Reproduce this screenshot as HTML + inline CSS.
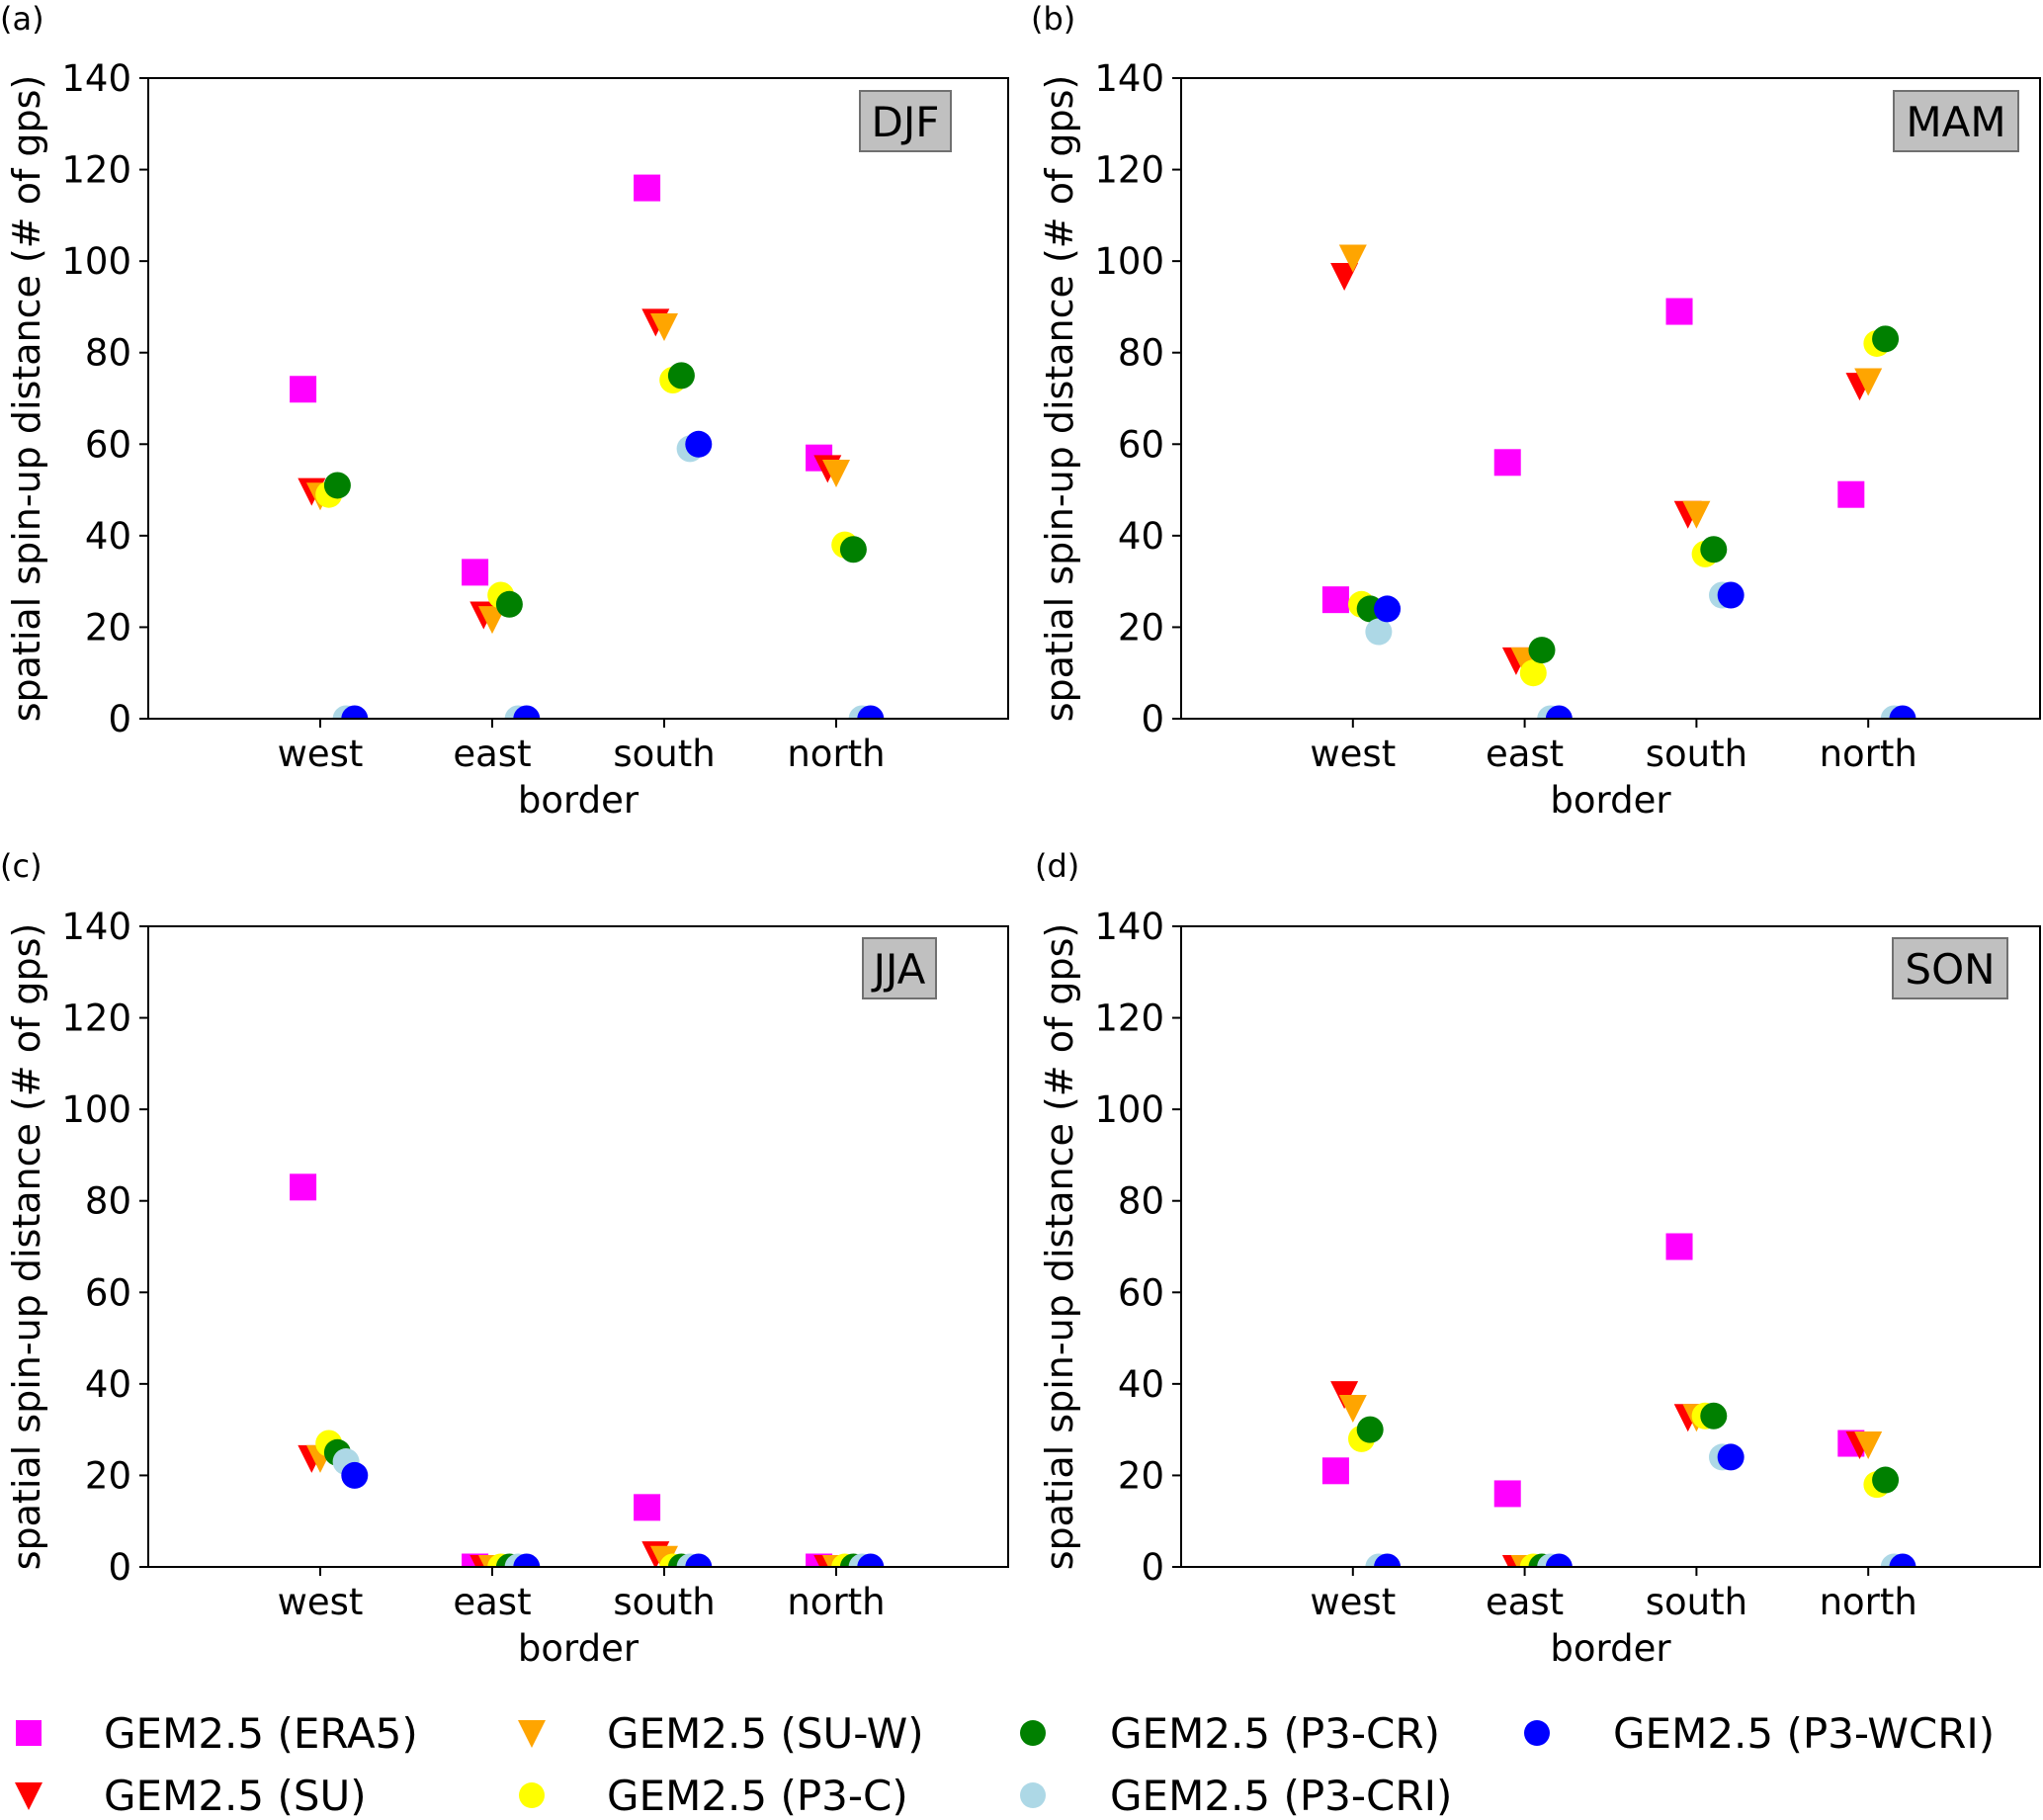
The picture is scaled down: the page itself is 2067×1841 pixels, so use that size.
<!DOCTYPE html>
<html><head><meta charset="utf-8"><style>
html,body{margin:0;padding:0;background:#fff;}
svg{display:block;font-family:"DejaVu Sans","Liberation Sans",sans-serif;}
</style></head><body>
<svg id="fig" width="2067" height="1841" viewBox="0 0 2067 1841" xmlns="http://www.w3.org/2000/svg"></svg>
<script>
const categories = ["west","east","south","north"];
const seriesNames = ["GEM2.5 (ERA5)","GEM2.5 (SU)","GEM2.5 (SU-W)","GEM2.5 (P3-C)","GEM2.5 (P3-CR)","GEM2.5 (P3-CRI)","GEM2.5 (P3-WCRI)"];
const seriesColors = ["#ff00ff","#ff0000","#ffa500","#ffff00","#008000","#add8e6","#0000ff"];
const seriesShapes = ["square","tri","tri","circle","circle","circle","circle"];
const seriesOffsets = [-0.1,-0.05,0,0.05,0.1,0.15,0.2];
const yTicks = [0,20,40,60,80,100,120,140];
const panelTitles = ["DJF","MAM","JJA","SON"];
const panelLetters = ["(a)","(b)","(c)","(d)"];
const djfERA5=[72,32,116,57], djfSU=[50,23,87,55], djfSUW=[49,22,86,54], djfP3C=[49,27,74,38], djfP3CR=[51,25,75,37], djfP3CRI=[0,0,59,0], djfP3WCRI=[0,0,60,0];
const mamERA5=[26,56,89,49], mamSU=[97,13,45,73], mamSUW=[101,13,45,74], mamP3C=[25,10,36,82], mamP3CR=[24,15,37,83], mamP3CRI=[19,0,27,0], mamP3WCRI=[24,0,27,0];
const jjaERA5=[83,0,13,0], jjaSU=[24,0,3,0], jjaSUW=[24,0,2,0], jjaP3C=[27,0,0,0], jjaP3CR=[25,0,0,0], jjaP3CRI=[23,0,0,0], jjaP3WCRI=[20,0,0,0];
const sonERA5=[21,16,70,27], sonSU=[38,0,33,27], sonSUW=[35,0,33,27], sonP3C=[28,0,33,18], sonP3CR=[30,0,33,19], sonP3CRI=[0,0,24,0], sonP3WCRI=[0,0,24,0];
const panelData=[
 [djfERA5,djfSU,djfSUW,djfP3C,djfP3CR,djfP3CRI,djfP3WCRI],
 [mamERA5,mamSU,mamSUW,mamP3C,mamP3CR,mamP3CRI,mamP3WCRI],
 [jjaERA5,jjaSU,jjaSUW,jjaP3C,jjaP3CR,jjaP3CRI,jjaP3WCRI],
 [sonERA5,sonSU,sonSUW,sonP3C,sonP3CR,sonP3CRI,sonP3WCRI]];

const NS="http://www.w3.org/2000/svg";
const svg=document.getElementById('fig');
function mk(tag,attrs,parent){const e=document.createElementNS(NS,tag);for(const k in attrs)e.setAttribute(k,attrs[k]);(parent||svg).appendChild(e);return e;}
const layout=[
 {x0:150,x1:1020,y0:79,y1:727,box:[870,92,92,61],lx:0,ly:30,ylx:40},
 {x0:1195,x1:2064,y0:79,y1:727,box:[1916,92,126,61],lx:1043,ly:30,ylx:1085},
 {x0:150,x1:1020,y0:937,y1:1585,box:[873,949,74,61],lx:0,ly:887,ylx:40},
 {x0:1195,x1:2064,y0:937,y1:1585,box:[1915,949,116,61],lx:1047,ly:887,ylx:1085}];
const MS=27;
function marker(g,shape,cx,cy,color,name){
 let e;
 if(shape==="square") e=mk('rect',{x:cx-MS/2,y:cy-MS/2,width:MS,height:MS,fill:color},g);
 else if(shape==="tri") e=mk('polygon',{points:`${cx-14},${cy-12} ${cx+14},${cy-12} ${cx},${cy+16}`,fill:color},g);
 else e=mk('circle',{cx:cx,cy:cy,r:MS/2,fill:color},g);
 
 
 return e;
}
layout.forEach((L,p)=>{
 const g=mk('g',{});
 
 
 const xs=v=>L.x0+(L.x1-L.x0)*v/5;
 const ys=v=>L.y1-(L.y1-L.y0)*v/140;
 const lt=mk('text',{x:L.lx,y:L.ly,'font-size':32},g);lt.textContent=panelLetters[p];
 
 
 mk('clipPath',{id:'c'+p},g).appendChild(document.createElementNS(NS,'rect'));
 const cr=g.querySelector('#c'+p+' rect');cr.setAttribute('x',L.x0);cr.setAttribute('y',L.y0);cr.setAttribute('width',L.x1-L.x0);cr.setAttribute('height',L.y1-L.y0);
 const mg=mk('g',{'clip-path':`url(#c${p})`},g);
 
 
 panelData[p].forEach((vals,s)=>{
  vals.forEach((v,i)=>{
   marker(mg,seriesShapes[s],xs(i+1+seriesOffsets[s]),ys(v),seriesColors[s],'marker-'+categories[i]);
  });
 });
 const fr=mk('rect',{x:L.x0,y:L.y0,width:L.x1-L.x0,height:L.y1-L.y0,fill:'none',stroke:'#000','stroke-width':2},g);
 
 
 yTicks.forEach(t=>{
  mk('line',{x1:L.x0-9,x2:L.x0,y1:ys(t),y2:ys(t),stroke:'#000','stroke-width':2},g);
  const tx=mk('text',{x:L.x0-17,y:ys(t)+13,'font-size':37,'text-anchor':'end'},g);tx.textContent=t;
  
  
 });
 categories.forEach((c,i)=>{
  mk('line',{x1:xs(i+1),x2:xs(i+1),y1:L.y1,y2:L.y1+9,stroke:'#000','stroke-width':2},g);
  const tx=mk('text',{x:xs(i+1),y:L.y1+48,'font-size':37,'text-anchor':'middle'},g);tx.textContent=c;
  
  
 });
 const xl=mk('text',{x:xs(2.5),y:L.y1+95,'font-size':37,'text-anchor':'middle'},g);xl.textContent='border';
 
 
 const ym=(L.y0+L.y1)/2;
 const yl=mk('text',{x:L.ylx,y:ym,'font-size':38,'text-anchor':'middle',transform:`rotate(-90 ${L.ylx} ${ym})`},g);yl.textContent='spatial spin-up distance (# of gps)';
 
 
 const b=L.box;
 const br=mk('rect',{x:b[0],y:b[1],width:b[2],height:b[3],fill:'#c0c0c0',stroke:'#707070','stroke-width':2},g);
 
 
 const bt=mk('text',{x:b[0]+b[2]/2,y:b[1]+46,'font-size':42,'text-anchor':'middle'},g);bt.textContent=panelTitles[p];
 
 
});
const legMx=[29,538,1045,1555], legTx=[105,614,1123,1632], legY=[1753,1816];
const lg=mk('g',{});


seriesNames.forEach((n,s)=>{
 const col=Math.floor(s/2), row=s%2;
 const cx=legMx[col], cy=legY[row];
 const it=mk('g',{},lg);
 
 
 let e;
 if(seriesShapes[s]==="square") e=mk('rect',{x:cx-13,y:cy-13,width:26,height:26,fill:seriesColors[s]},it);
 else if(seriesShapes[s]==="tri") e=mk('polygon',{points:`${cx-14},${cy-13} ${cx+14},${cy-13} ${cx},${cy+15}`,fill:seriesColors[s]},it);
 else e=mk('circle',{cx:cx,cy:cy,r:13,fill:seriesColors[s]},it);
 
 
 const t=mk('text',{x:legTx[col],y:cy+15,'font-size':42},it);t.textContent=n;
 
 
});
</script>
</body></html>
